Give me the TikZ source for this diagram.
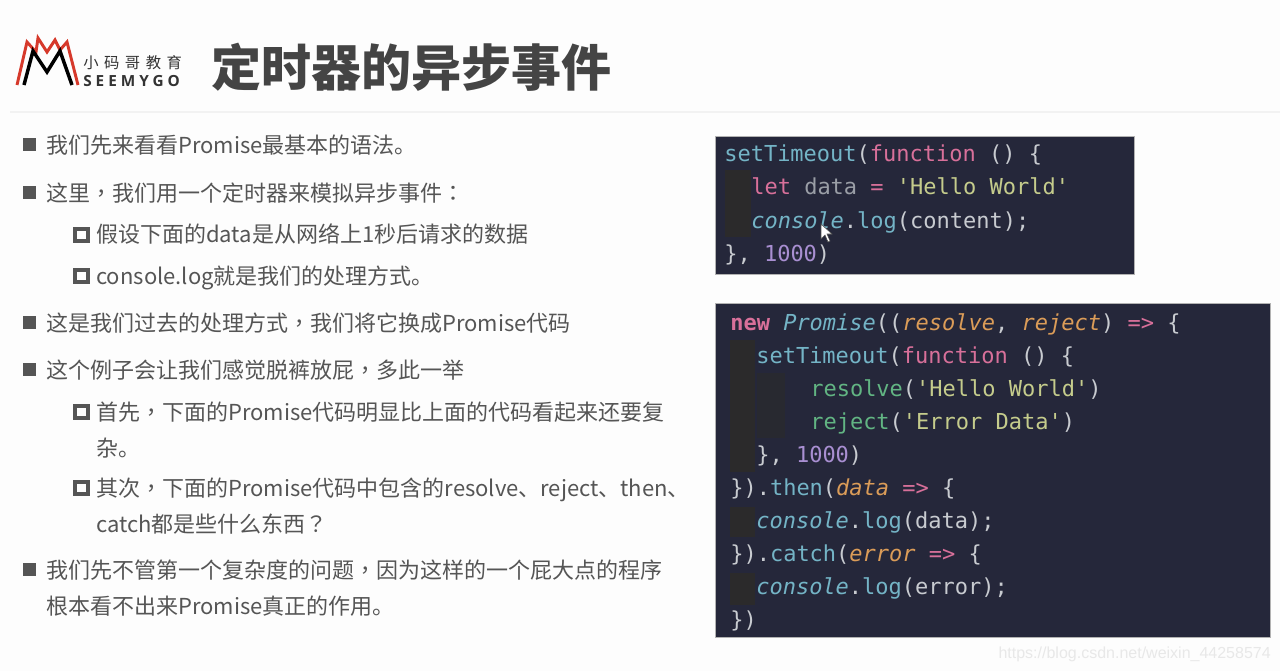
\documentclass[tikz,border=0pt]{standalone}
\usepackage{fontspec}
\setmainfont{Noto Sans CJK SC}
\setmonofont{DejaVu Sans Mono}
\newfontfamily\logocjk[LetterSpace=36]{Noto Sans CJK SC}
\newfontfamily\logolat[LetterSpace=26]{Open Sans}
\newfontfamily\markfont{Liberation Sans}
\newfontfamily\punctfont{Noto Sans CJK TC}
\definecolor{slidebg}{HTML}{FDFDFD}
\definecolor{bodygray}{HTML}{555555}
\definecolor{titlegray}{HTML}{444444}
\definecolor{editorbg}{HTML}{25273A}
\definecolor{guideA}{HTML}{2B2A2B}
\definecolor{guideB}{HTML}{282930}
\definecolor{codeplain}{HTML}{C8CBD0}
\definecolor{codeteal}{HTML}{74B4C6}
\definecolor{codepink}{HTML}{D8709A}
\definecolor{codeyellow}{HTML}{C5CC8C}
\definecolor{codepurple}{HTML}{A98FD2}
\definecolor{codeorange}{HTML}{DB9C58}
\definecolor{codegreen}{HTML}{62B583}
\definecolor{codegray}{HTML}{9A9EA6}
\definecolor{logored}{HTML}{D6392B}
\newcommand{\tl}[1]{\textcolor{codeteal}{#1}}
\newcommand{\pk}[1]{\textcolor{codepink}{#1}}
\newcommand{\yl}[1]{\textcolor{codeyellow}{#1}}
\newcommand{\pu}[1]{\textcolor{codepurple}{#1}}
\newcommand{\og}[1]{\textcolor{codeorange}{\itshape #1}}
\newcommand{\gr}[1]{\textcolor{codegreen}{#1}}
\newcommand{\pc}[1]{{\punctfont #1}}
\tikzset{
	bodyline/.style={anchor=base west,inner sep=0pt,text=bodygray,font=\fontsize{16.5}{20}\selectfont},
	codeline/.style={anchor=base west,inner sep=0pt,text=codeplain,font=\ttfamily\fontsize{16.5}{20}\selectfont},
	bigbullet/.style={fill=bodygray,draw=none},
	smallbullet/.style={draw=bodygray,line width=2.4pt,fill=none},
	editor/.style={fill=editorbg,draw=black!30,line width=0.3pt}
}
\begin{document}
\begin{tikzpicture}[x=0.75pt,y=-0.75pt]
	\useasboundingbox [fill=slidebg] (0,0) rectangle (1280,671);
	% header
	\draw [black!5,line width=0.8pt] (10,112) -- (1280,112);
	\draw [logored,line width=2.2pt,line join=miter] (17,85) -- (27,42) -- (36,52) -- (38,38) -- (47,52) -- (55,40) -- (60,50) -- (67,42) -- (78,85);
	\draw [black,line width=2.6pt,line join=miter] (24,85) -- (33,51) -- (47,72) -- (60,51) -- (72,85);
	\node [anchor=base west,inner sep=0pt,text=black!80,font=\logocjk\fontsize{11.5}{13}\selectfont] (logocn) at (83,68) {小码哥教育};
	\node [anchor=base west,inner sep=0pt,text=black!80,font=\logolat\bfseries\fontsize{11.5}{13}\selectfont] (logoen) at (83,86) {SEEMYGO};
	\node [anchor=base west,inner sep=0pt,text=titlegray,font=\bfseries\fontsize{37.5}{40}\selectfont] (title) at (211,86) {定时器的异步事件};
	% left column
	\foreach \y in {145,193,323,370,570} {
		\fill [bigbullet] (23,\y-7) rectangle (36,\y+6);
	}
	\foreach \y in {235,276,412,488} {
		\draw [smallbullet] (75,\y-6) rectangle (88,\y+6);
	}
	\node [bodyline] (lineA) at (46,153) {我们先来看看Promise最基本的语法。};
	\node [bodyline] (lineB) at (46,201) {这里\pc{，}我们用一个定时器来模拟异步事件\pc{：}};
	\node [bodyline] (lineBa) at (96,242) {假设下面的data是从网络上1秒后请求的数据};
	\node [bodyline] (lineBb) at (96,284) {console.log就是我们的处理方式。};
	\node [bodyline] (lineC) at (46,331) {这是我们过去的处理方式\pc{，}我们将它换成Promise代码};
	\node [bodyline] (lineD) at (46,378) {这个例子会让我们感觉脱裤放屁\pc{，}多此一举};
	\node [bodyline] (lineDa) at (96,420) {首先\pc{，}下面的Promise代码明显比上面的代码看起来还要复};
	\node [bodyline] (lineDb) at (96,456) {杂。};
	\node [bodyline] (lineDc) at (96,496) {其次\pc{，}下面的Promise代码中包含的resolve、reject、then、};
	\node [bodyline] (lineDd) at (96,532) {catch都是些什么东西\pc{？}};
	\node [bodyline] (lineE) at (46,578) {我们先不管第一个复杂度的问题\pc{，}因为这样的一个屁大点的程序};
	\node [bodyline] (lineEa) at (46,614) {根本看不出来Promise真正的作用。};
	% top editor
	\draw [editor] (715,136) rectangle (1134,274);
	\fill [guideA] (725,170) rectangle (751,237);
	\node [codeline] (topA) at (724,161) {\tl{setTimeout}(\pk{function} () \{};
	\node [codeline] (topB) at (751,194) {\pk{let} \textcolor{codegray}{data} \pk{=} \yl{'Hello World'}};
	\node [codeline] (topC) at (751,228) {\tl{\itshape console}.\tl{log}(content);};
	\node [codeline] (topD) at (724,261) {\}, \pu{1000})};
	% bottom editor
	\draw [editor] (715,303) rectangle (1270,637);
	\fill [guideA] (730,340) rectangle (755,472);
	\fill [guideB] (757,373) rectangle (785,438);
	\fill [guideA] (730,507) rectangle (755,537);
	\fill [guideA] (730,573) rectangle (755,605);
	\node [codeline] (botA) at (730,330) {\pk{\bfseries new} \tl{\itshape Promise}((\og{resolve}, \og{reject}) \pk{=>} \{};
	\node [codeline] (botB) at (756,363) {\tl{setTimeout}(\pk{function} () \{};
	\node [codeline] (botC) at (810,396) {\gr{resolve}(\yl{'Hello World'})};
	\node [codeline] (botD) at (810,429) {\gr{reject}(\yl{'Error Data'})};
	\node [codeline] (botE) at (756,462) {\}, \pu{1000})};
	\node [codeline] (botF) at (730,495) {\}).\tl{then}(\og{data} \pk{=>} \{};
	\node [codeline] (botG) at (756,528) {\tl{\itshape console}.\tl{log}(data);};
	\node [codeline] (botH) at (730,561) {\}).\tl{catch}(\og{error} \pk{=>} \{};
	\node [codeline] (botI) at (756,594) {\tl{\itshape console}.\tl{log}(error);};
	\node [codeline] (botJ) at (730,627) {\})};
	% mouse pointer
	\draw [fill=white,draw=black!70,line width=0.4pt] (821,224) -- (821,239) -- (825,235) -- (828,242) -- (830,241) -- (827,234) -- (832,234) -- cycle;
	% watermark
	\node [anchor=base east,inner sep=0pt,text=black!9,font=\markfont\fontsize{12}{15}\selectfont] (mark) at (1271,658) {https://blog.csdn.net/weixin\_44258574};
\end{tikzpicture}
\end{document}
